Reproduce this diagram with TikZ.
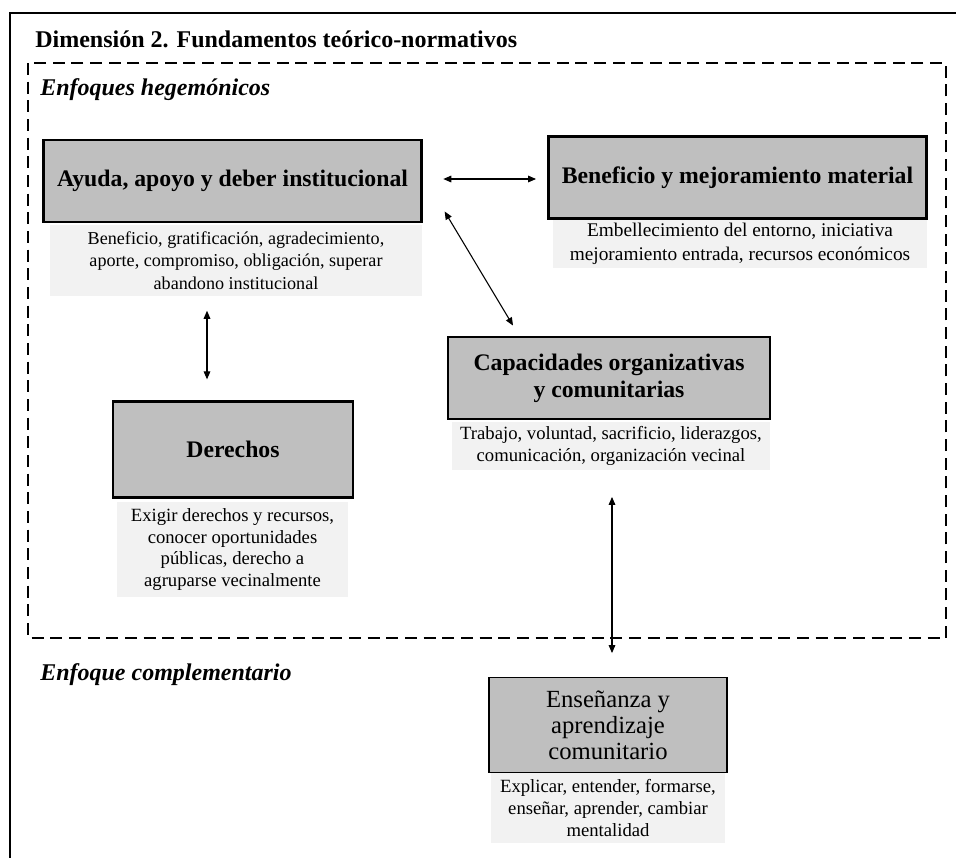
\documentclass[tikz,border=0pt]{standalone}
\usepackage{fontspec}
\setmainfont{Liberation Serif}
\usetikzlibrary{arrows.meta}
\definecolor{boxgray}{HTML}{BFBFBF}
\definecolor{descgray}{HTML}{F2F2F2}
\tikzset{
  catbox/.style={draw, line width=2.2pt, fill=boxgray, align=center, inner sep=0pt,
    font=\bfseries\fontsize{17.8}{20.5}\selectfont},
  descbox/.style={fill=descgray, align=center, inner sep=0pt,
    font=\fontsize{13.6}{16.8}\selectfont},
  heading/.style={anchor=base west, inner sep=0pt, font=\bfseries\fontsize{18}{20}\selectfont},
  link/.style={{Triangle[length=6pt,width=5pt]}-{Triangle[length=6pt,width=5pt]}, line width=0.8pt},
  zone/.style={line width=2pt, dash pattern=on 9pt off 5pt}
}
\begin{document}
\begin{tikzpicture}[x=0.75pt, y=-0.75pt]
\clip (0,0) rectangle (956,857);
\draw[line width=1.5pt] (10,13) rectangle (990,900);
\draw[zone] (28,63) rectangle (946,638);
\node[heading] (dimtitle) at (35,47) {Dimensión 2. Fundamentos teórico-normativos};
\node[heading, font=\bfseries\itshape\fontsize{18}{20}\selectfont] (hegem) at (40,95) {Enfoques hegemónicos};
\node[heading, font=\bfseries\itshape\fontsize{18}{20}\selectfont] (complem) at (40,680) {Enfoque complementario};
% enfoques hegemonicos
\node[catbox, minimum width=284pt, minimum height=61.5pt] (ayuda) at (232.5,181) {Ayuda, apoyo y deber institucional};
\node[descbox, minimum width=279pt, minimum height=53pt] (ayudad) at (236,260.5) {Beneficio, gratificación, agradecimiento,\\ aporte, compromiso, obligación, superar\\ abandono institucional};
\node[catbox, minimum width=284pt, minimum height=61pt] (benef) at (737.5,177.5) {Beneficio y mejoramiento material};
\node[descbox, font=\fontsize{14.5}{17.5}\selectfont, minimum width=280.5pt, minimum height=36pt] (benefd) at (740,244) {Embellecimiento del entorno, iniciativa\\ mejoramiento entrada, recursos económicos};
\node[catbox, minimum width=241.5pt, minimum height=61.5pt] (capac) at (609,378) {Capacidades organizativas\\ y comunitarias};
\node[descbox, font=\fontsize{14}{17}\selectfont, minimum width=238.5pt, minimum height=36pt] (capacd) at (611,446) {Trabajo, voluntad, sacrificio, liderazgos,\\ comunicación, organización vecinal};
\node[catbox, minimum width=180pt, minimum height=72pt] (derech) at (233,449.5) {Derechos};
\node[descbox, font=\fontsize{14}{16.4}\selectfont, minimum width=173pt, minimum height=71pt] (derechd) at (232.5,549.5) {Exigir derechos y recursos,\\ conocer oportunidades\\ públicas, derecho a\\ agruparse vecinalmente};
% enfoque complementario
\node[catbox, line width=0.9pt, font=\fontsize{18.5}{19.5}\selectfont, minimum width=178.5pt, minimum height=71pt] (ensen) at (608,725) {Enseñanza y\\ aprendizaje\\ comunitario};
\node[descbox, font=\fontsize{14}{16.8}\selectfont, minimum width=175pt, minimum height=52pt] (ensend) at (608,808) {Explicar, entender, formarse,\\ enseñar, aprender, cambiar\\ mentalidad};
% relaciones
\draw[link, shorten <=15pt, shorten >=8pt] ([yshift=1.5pt]ayuda.east) -- ([yshift=1.5pt]ayuda.east -| benef.west);
\draw[link] ([xshift=16pt, yshift=9pt]ayuda.south east) -- ([xshift=-72pt, yshift=7.5pt]capac.north);
\draw[link, shorten <=11pt, shorten >=15.5pt] ([xshift=-21.75pt]ayudad.south) -- ([xshift=-21.75pt]ayudad.south |- derech.north);
\draw[link, shorten <=20pt, shorten >=18pt] ([xshift=0.75pt]capacd.south) -- ([xshift=0.75pt]capacd.south |- ensen.north);
\end{tikzpicture}
\end{document}
